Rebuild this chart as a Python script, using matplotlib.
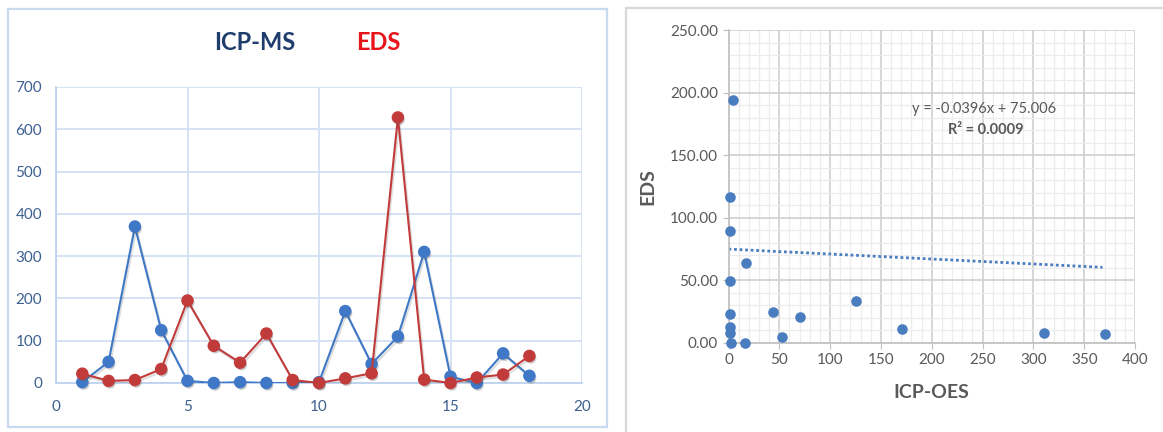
import matplotlib
matplotlib.use("Agg")
import matplotlib.pyplot as plt
from matplotlib.patches import Rectangle
from matplotlib.ticker import MultipleLocator, FormatStrFormatter
import matplotlib.patheffects as pe

plt.rcParams['font.family'] = ['Lato', 'DejaVu Sans']

# Sample index and concentrations from both methods
samples = list(range(1, 19))
icp_ms = [2, 50, 370, 125, 5, 0, 2, 0, 0, 2, 170, 45, 110, 310, 15, 0, 70, 17]
eds = [22, 5, 7, 33, 195, 88, 48, 117, 7, 0, 11, 23, 628, 8, 0, 13, 20, 64]

# Paired values for the correlation plot
icp_oes = [4, 1, 1, 17.7, 1.8, 1.8, 1.8, 1, 2.8, 16.3, 44.2, 52.3, 70.3, 125, 170.3, 310.6, 370]
eds_pair = [194.3, 116.6, 89.6, 63.9, 49.3, 23.1, 13, 7.7, 0, 0, 24.7, 4.8, 20.9, 33.4, 11.4, 8, 7.4]

# Linear trend reported on the chart
slope, intercept = -0.0396, 75.006
trend_x = [0, 368]

W, H = 1163, 432
fig = plt.figure(figsize=(W / 100, H / 100), dpi=100)

# Panel frames
fig.patches.append(Rectangle((8 / W, 1 - 427 / H), 599 / W, 418 / H, transform=fig.transFigure,
                             fill=False, edgecolor='#C9DAF0', linewidth=1.6))
fig.patches.append(Rectangle((626 / W, -0.05), 0.5, 1 - 8 / H + 0.05, transform=fig.transFigure,
                             fill=False, edgecolor='#D9D9D9', linewidth=1.6))

# ---- Left: line chart ----
ax1 = fig.add_axes([56 / W, 1 - 383 / H, 526 / W, 296 / H])
blue = '#3F78C6'
red = '#C23B3B'
line_shadow = [pe.SimpleLineShadow(offset=(1.0, -1.6), shadow_color='#666666', alpha=0.22), pe.Normal()]
dot_shadow = [pe.SimplePatchShadow(offset=(1.0, -1.6), shadow_rgbFace='#555555', alpha=0.3), pe.Normal()]
for vals, col, z in [(icp_ms, blue, 3), (eds, red, 5)]:
    ax1.plot(samples, vals, color=col, lw=1.5, zorder=z, path_effects=line_shadow)
    ax1.plot(samples, vals, color=col, lw=0, marker='o', ms=8, linestyle='none',
             zorder=z + 0.5, path_effects=dot_shadow, clip_on=False)
ax1.set_xlim(0, 20)
ax1.set_ylim(0, 700)
ax1.xaxis.set_major_locator(MultipleLocator(5))
ax1.yaxis.set_major_locator(MultipleLocator(100))
ax1.grid(True, color='#D3E1F3', lw=1.3, zorder=0)
ax1.set_axisbelow(True)
for s in ['top', 'right']:
    ax1.spines[s].set_visible(False)
for s in ['left', 'bottom']:
    ax1.spines[s].set_color('#BCD2EE')
    ax1.spines[s].set_linewidth(1.3)
ax1.tick_params(length=0, labelsize=11, colors='#3C5F8F', pad=10)
ax1.tick_params(axis='x', pad=12)
fig.text(255 / W, 1 - 43 / H, 'ICP-MS', color='#1F3E6E', fontsize=17, fontweight='bold',
         ha='center', va='center')
fig.text(378 / W, 1 - 43 / H, 'EDS', color='#E8141B', fontsize=17, fontweight='bold',
         ha='center', va='center')

# ---- Right: scatter with trend ----
ax2 = fig.add_axes([728.5 / W, 1 - 343 / H, 406.5 / W, 313 / H])
sblue = '#4A7DC0'
ax2.scatter(icp_oes, eds_pair, s=58, color=sblue, zorder=3, linewidths=0, clip_on=False)
tx = trend_x
ty = [slope * v + intercept for v in tx]
ax2.plot(tx, ty, color=sblue, lw=2, linestyle=(0, (1, 1)), zorder=2)
ax2.set_xlim(0, 400)
ax2.set_ylim(0, 250)
ax2.xaxis.set_major_locator(MultipleLocator(50))
ax2.yaxis.set_major_locator(MultipleLocator(50))
ax2.xaxis.set_minor_locator(MultipleLocator(10))
ax2.yaxis.set_minor_locator(MultipleLocator(10))
ax2.yaxis.set_major_formatter(FormatStrFormatter('%.2f'))
ax2.grid(True, which='major', color='#D0D0D0', lw=1.2, zorder=0)
ax2.grid(True, which='minor', color='#ECECEC', lw=0.9, zorder=0)
ax2.set_axisbelow(True)
for s in ['top', 'right']:
    ax2.spines[s].set_visible(False)
for s in ['left', 'bottom']:
    ax2.spines[s].set_color('#BFBFBF')
    ax2.spines[s].set_linewidth(1.2)
ax2.tick_params(which='major', length=4, color='#BFBFBF', labelsize=11, labelcolor='#595959')
ax2.tick_params(which='minor', length=0)
ax2.set_xlabel('ICP-OES', fontsize=14, fontweight='bold', color='#595959', labelpad=12)
ax2.set_ylabel('EDS', fontsize=14, fontweight='bold', color='#595959', labelpad=10)
ax2.text(984 / W, 1 - 109 / H, 'y = -0.0396x + 75.006', transform=fig.transFigure,
         fontsize=10.5, color='#595959', ha='center', va='center')
ax2.text(986 / W, 1 - 130 / H, 'R² = 0.0009', transform=fig.transFigure,
         fontsize=10.5, fontweight='bold', color='#595959', ha='center', va='center')

fig.savefig('out.png', dpi=100)
